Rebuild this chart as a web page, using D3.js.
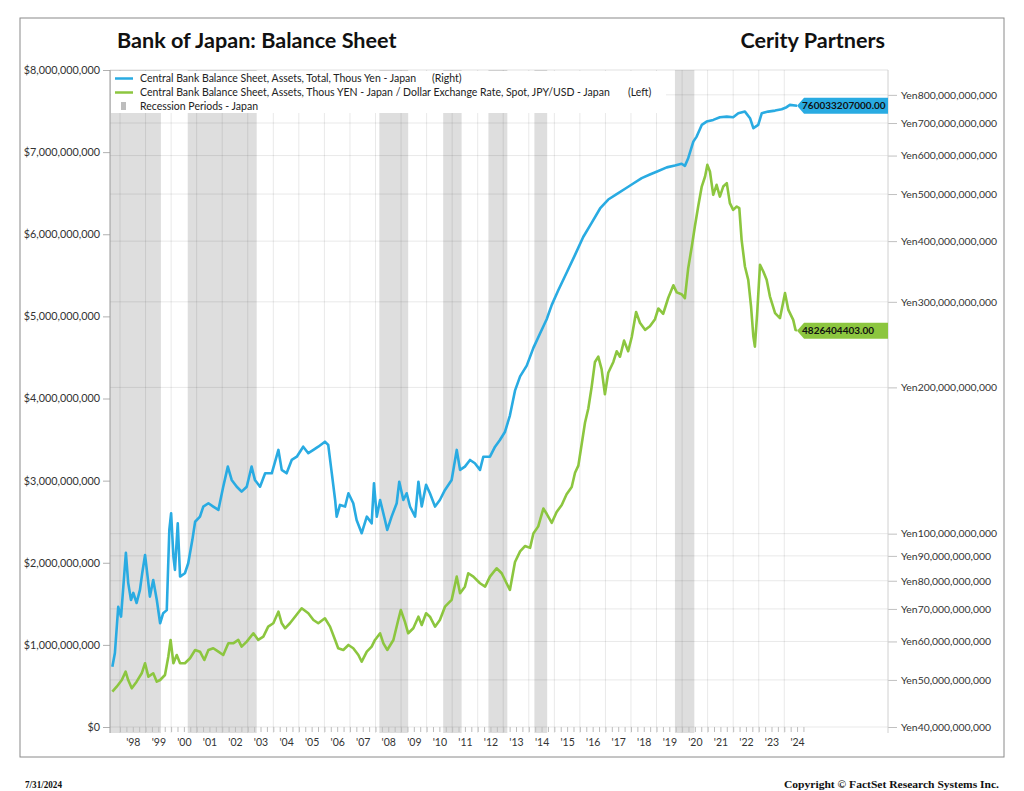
<!DOCTYPE html>
<html>
<head>
<meta charset="utf-8">
<script src="https://cdn.jsdelivr.net/npm/d3@7"></script>
<style>
  html, body { margin: 0; padding: 0; background: #fff; }
  svg { display: block; }
</style>
</head>
<body>
<svg id="chart" width="1024" height="791"></svg>
<script>
// ---------------- DATA ----------------
// Blue: Central Bank Balance Sheet, Assets, Total (billions of plotted unit; right, log axis)
const blueDates = [1997.70,1997.80,1997.93,1998.04,1998.13,1998.23,1998.32,1998.43,1998.52,1998.65,1998.78,1998.87,1998.98,1999.08,1999.17,1999.30,1999.44,1999.57,1999.69,1999.83,1999.93,2000.00,2000.09,2000.15,2000.26,2000.35,2000.54,2000.67,2000.83,2000.94,2001.13,2001.26,2001.46,2001.65,2001.85,2002.04,2002.22,2002.37,2002.57,2002.76,2002.96,2003.15,2003.28,2003.48,2003.68,2003.94,2004.20,2004.33,2004.52,2004.72,2004.92,2005.17,2005.37,2005.57,2005.76,2006.02,2006.15,2006.29,2006.42,2006.48,2006.61,2006.81,2006.94,2007.13,2007.26,2007.46,2007.66,2007.85,2007.94,2008.05,2008.18,2008.37,2008.46,2008.63,2008.83,2008.93,2009.09,2009.22,2009.35,2009.55,2009.68,2009.81,2009.98,2010.13,2010.33,2010.52,2010.72,2010.98,2011.18,2011.31,2011.50,2011.70,2011.89,2012.09,2012.22,2012.48,2012.68,2012.87,2013.07,2013.26,2013.46,2013.66,2013.92,2014.18,2014.44,2014.70,2014.90,2015.15,2015.48,2015.81,2016.13,2016.46,2016.79,2017.11,2017.44,2017.77,2018.09,2018.42,2018.74,2019.07,2019.40,2019.72,2019.98,2020.11,2020.24,2020.44,2020.57,2020.77,2020.96,2021.22,2021.48,2021.75,2022.00,2022.20,2022.46,2022.66,2022.79,2022.98,2023.12,2023.37,2023.64,2023.90,2024.09,2024.22,2024.50];
const blueValues = [53.2,56.8,70.7,67.5,77.8,91.3,79.2,73.0,75.5,72.0,76.6,83.0,90.4,81.6,74.2,80.3,73.0,65.4,68.6,69.6,101.8,110.1,89.7,84.2,105.0,81.6,82.9,86.9,97.0,105.8,108.4,113.7,115.5,113.7,111.9,124.9,137.4,129.0,124.9,122.0,124.9,137.4,129.0,124.9,133.1,133.1,148.7,135.3,133.1,141.8,144.0,151.0,146.4,148.7,151.0,154.6,152.3,133.1,117.3,108.4,114.6,113.7,121.1,115.5,106.7,100.2,108.4,105.0,127.0,108.4,117.3,106.7,101.8,108.4,115.5,127.9,117.3,121.1,113.7,108.4,127.9,113.7,126.0,121.1,113.7,117.3,123.0,129.0,148.7,135.3,137.4,141.8,139.6,135.3,144.0,144.0,151.0,155.9,162.1,175.0,196.9,210.7,221.7,241.2,258.1,276.3,295.7,316.4,344.3,374.7,407.9,436.2,466.9,487.2,499.6,512.6,525.6,539.2,548.5,557.7,567.3,572.2,577.1,571.4,592.6,641.0,656.4,693.8,704.8,710.5,719.6,721.7,719.6,733.4,739.0,716.2,683.1,693.8,733.4,739.0,742.5,747.5,754.6,762.8,760.033207];

// Green: Assets in YEN / JPY-USD spot (billions of dollars; left, linear axis)
const greenDates = [1997.70,1997.87,1998.07,1998.22,1998.32,1998.46,1998.65,1998.85,1998.98,1999.11,1999.30,1999.44,1999.57,1999.76,1999.89,1999.98,2000.09,2000.22,2000.35,2000.54,2000.74,2000.94,2001.13,2001.30,2001.46,2001.65,2001.85,2002.04,2002.24,2002.43,2002.63,2002.76,2002.96,2003.22,2003.41,2003.61,2003.80,2004.00,2004.20,2004.33,2004.46,2004.65,2004.85,2005.11,2005.37,2005.57,2005.76,2006.02,2006.22,2006.42,2006.54,2006.74,2006.94,2007.13,2007.33,2007.46,2007.66,2007.85,2007.98,2008.18,2008.31,2008.46,2008.70,2008.89,2008.99,2009.15,2009.28,2009.48,2009.68,2009.81,2009.98,2010.13,2010.33,2010.52,2010.72,2010.98,2011.18,2011.31,2011.50,2011.63,2011.83,2012.09,2012.29,2012.48,2012.74,2012.94,2013.13,2013.26,2013.46,2013.66,2013.85,2014.05,2014.18,2014.37,2014.57,2014.70,2014.90,2015.09,2015.29,2015.48,2015.68,2015.81,2015.94,2016.07,2016.20,2016.33,2016.46,2016.59,2016.72,2016.85,2016.98,2017.11,2017.31,2017.44,2017.57,2017.73,2017.89,2018.03,2018.20,2018.35,2018.55,2018.74,2018.94,2019.07,2019.26,2019.46,2019.66,2019.79,2019.98,2020.11,2020.24,2020.38,2020.50,2020.63,2020.77,2020.90,2020.99,2021.09,2021.22,2021.35,2021.48,2021.61,2021.75,2021.87,2022.00,2022.14,2022.24,2022.33,2022.46,2022.59,2022.70,2022.79,2022.85,2022.94,2023.05,2023.18,2023.31,2023.44,2023.64,2023.83,2024.03,2024.16,2024.35,2024.44,2024.50];
const greenValues = [0.430,0.491,0.572,0.674,0.572,0.471,0.552,0.654,0.776,0.613,0.654,0.552,0.572,0.633,0.856,1.060,0.776,0.877,0.776,0.776,0.837,0.938,0.917,0.816,0.938,0.959,0.917,0.877,1.019,1.019,1.060,0.978,1.039,1.141,1.060,1.100,1.222,1.263,1.404,1.263,1.202,1.263,1.343,1.446,1.385,1.303,1.263,1.324,1.222,1.060,0.959,0.938,0.999,0.959,0.877,0.795,0.917,0.978,1.060,1.141,1.019,0.938,1.060,1.303,1.425,1.283,1.141,1.202,1.343,1.242,1.385,1.343,1.222,1.303,1.465,1.547,1.831,1.628,1.709,1.872,1.831,1.750,1.709,1.831,1.933,1.872,1.750,1.669,2.009,2.139,2.203,2.181,2.356,2.443,2.660,2.596,2.486,2.618,2.704,2.834,2.922,3.095,3.183,3.443,3.704,3.878,4.140,4.445,4.509,4.357,4.052,4.313,4.445,4.575,4.509,4.705,4.575,4.749,5.054,4.922,4.836,4.879,4.966,5.096,5.032,5.227,5.379,5.292,5.270,5.222,5.587,5.850,6.094,6.337,6.581,6.703,6.845,6.764,6.480,6.602,6.459,6.581,6.622,6.379,6.297,6.337,6.318,5.932,5.607,5.445,5.119,4.754,4.632,5.039,5.627,5.546,5.445,5.241,5.039,4.978,5.283,5.079,4.957,4.836,4.826404403];

// Recession periods - Japan (decimal years)
const recessionStart = [1997.6, 2000.65, 2008.15, 2010.65, 2012.42, 2014.22, 2019.72];
const recessionEnd   = [1999.6, 2003.35, 2009.28, 2011.37, 2013.16, 2014.72, 2020.48];

// Axis ticks
const leftTicks  = [0, 1e9, 2e9, 3e9, 4e9, 5e9, 6e9, 7e9, 8e9];
const rightTicks = [40e9, 50e9, 60e9, 70e9, 80e9, 90e9, 100e9, 200e9, 300e9, 400e9, 500e9, 600e9, 700e9, 800e9];
const yearTicks  = d3.range(1998, 2025);

const blueLastLabel  = "760033207000.00";
const greenLastLabel = "4826404403.00";
const UNIT = 1e9;

// ---------------- CHART ----------------
const svg = d3.select("#chart");
const FONT = "Lato, 'Open Sans', sans-serif";
const plot = { left: 110, right: 888, top: 70, bottom: 727, axisBottom: 733 };

const x  = d3.scaleLinear().domain([1997.608, 2028.06]).range([plot.left, plot.right]);
const yL = d3.scaleLinear().domain([0, 8e9]).range([plot.bottom, plot.top]);
const yR = d3.scaleLog().domain([40e9, 900e9]).range([plot.bottom, plot.top]);

// outer frame
svg.append("rect").attr("x", 20).attr("y", 18).attr("width", 984).attr("height", 739)
  .attr("fill", "#fff").attr("stroke", "#8a8a8a").attr("stroke-width", 1);

// titles
svg.append("text").attr("x", 117).attr("y", 48).attr("font-family", FONT)
  .attr("font-size", 21.6).attr("font-weight", "bold").attr("fill", "#111")
  .text("Bank of Japan: Balance Sheet");
svg.append("text").attr("x", 885).attr("y", 48).attr("text-anchor", "end").attr("font-family", FONT)
  .attr("font-size", 21.6).attr("font-weight", "bold").attr("fill", "#111")
  .text("Cerity Partners");

// recession bands
svg.append("g").selectAll("rect").data(recessionStart).join("rect")
  .attr("x", (d) => Math.max(plot.left, x(d)))
  .attr("width", (d, i) => x(recessionEnd[i]) - Math.max(plot.left, x(d)))
  .attr("y", plot.top).attr("height", plot.axisBottom - plot.top)
  .attr("fill", "#dedede");

// vertical grid (year boundaries)
svg.append("g").selectAll("line").data(yearTicks).join("line")
  .attr("x1", (d) => x(d)).attr("x2", (d) => x(d))
  .attr("y1", plot.top).attr("y2", plot.axisBottom)
  .attr("stroke", "rgba(0,0,0,0.09)").attr("stroke-width", 1);

// horizontal grid (right axis ticks)
svg.append("g").selectAll("line").data(rightTicks).join("line")
  .attr("x1", plot.left).attr("x2", plot.right)
  .attr("y1", (d) => yR(d)).attr("y2", (d) => yR(d))
  .attr("stroke", "rgba(0,0,0,0.09)").attr("stroke-width", 1);
svg.append("line").attr("x1", plot.left).attr("x2", plot.right)
  .attr("y1", plot.top).attr("y2", plot.top).attr("stroke", "rgba(0,0,0,0.12)");

// series
const blueData = blueDates.map((d, i) => ({ t: d, v: blueValues[i] * UNIT }));
const greenData = greenDates.map((d, i) => ({ t: d, v: greenValues[i] * UNIT }));

svg.append("path").datum(greenData)
  .attr("fill", "none").attr("stroke", "#8cc63f").attr("stroke-width", 2.6)
  .attr("stroke-linejoin", "round")
  .attr("d", d3.line().x((d) => x(d.t)).y((d) => yL(d.v)));
svg.append("path").datum(blueData)
  .attr("fill", "none").attr("stroke", "#29abe2").attr("stroke-width", 2.6)
  .attr("stroke-linejoin", "round")
  .attr("d", d3.line().x((d) => x(d.t)).y((d) => yR(d.v)));

// legend
const lg = svg.append("g");
lg.append("rect").attr("x", plot.left + 1).attr("y", plot.top + 1).attr("width", 555).attr("height", 42).attr("fill", "#fff");
const legendRows = [
  { y: 78.5, color: "#29abe2", text: "Central Bank Balance Sheet, Assets, Total, Thous Yen - Japan", side: "(Right)", sx: 432 },
  { y: 92.5, color: "#8cc63f", text: "Central Bank Balance Sheet, Assets, Thous YEN - Japan / Dollar Exchange Rate, Spot, JPY/USD - Japan", side: "(Left)", sx: 628 }
];
legendRows.forEach((r) => {
  lg.append("line").attr("x1", 115).attr("x2", 133).attr("y1", r.y).attr("y2", r.y)
    .attr("stroke", r.color).attr("stroke-width", 2.5);
  lg.append("text").attr("x", 140).attr("y", r.y + 3.7).attr("font-family", FONT).attr("font-size", 10.5).attr("fill", "#222").text(r.text);
  lg.append("text").attr("x", r.sx).attr("y", r.y + 3.7).attr("font-family", FONT).attr("font-size", 10.5).attr("fill", "#222").text(r.side);
});
lg.append("rect").attr("x", 121).attr("y", 102).attr("width", 5).attr("height", 8).attr("fill", "#bdbdbd");
lg.append("text").attr("x", 140).attr("y", 110).attr("font-family", FONT).attr("font-size", 10.5).attr("fill", "#222").text("Recession Periods - Japan");

// left axis
const leftAxis = d3.axisLeft(yL).tickValues(leftTicks).tickSize(7).tickPadding(3)
  .tickFormat((d) => "$" + d3.format(",")(d));
const gL = svg.append("g").attr("transform", `translate(${plot.left},0)`).call(leftAxis);
gL.select(".domain").remove();
gL.append("line").attr("x1", 0).attr("x2", 0).attr("y1", plot.top).attr("y2", plot.axisBottom).attr("stroke", "#9a9a9a");
gL.selectAll(".tick line").attr("stroke", "#b0b0b0");
gL.selectAll("text").attr("font-family", FONT).attr("font-size", 10.8).attr("fill", "#333");

// right axis
const rightAxis = d3.axisRight(yR).tickValues(rightTicks).tickSize(9).tickPadding(4)
  .tickFormat((d) => "Yen" + d3.format(",")(d));
const gR = svg.append("g").attr("transform", `translate(${plot.right},0)`).call(rightAxis);
gR.select(".domain").remove();
gR.append("line").attr("x1", 0).attr("x2", 0).attr("y1", plot.top).attr("y2", plot.axisBottom).attr("stroke", "#d0d0d0");
gR.selectAll(".tick line").attr("stroke", "#c0c0c0");
gR.selectAll("text").attr("font-family", FONT).attr("font-size", 10.4).attr("fill", "#333");

// bottom axis
const quarterTicks = d3.range(1998, 2024.76, 0.25);
const gB = svg.append("g").attr("transform", `translate(0,${plot.bottom})`);
gB.call(d3.axisBottom(x).tickValues(quarterTicks).tickSize(5).tickFormat(""));
gB.select(".domain").remove();
gB.selectAll(".tick line").attr("stroke", "#bdbdbd");
const gB2 = svg.append("g").attr("transform", `translate(0,${plot.bottom})`);
gB2.call(d3.axisBottom(x).tickValues(yearTicks.map((d) => d + 0.5)).tickSize(0).tickPadding(12)
  .tickFormat((d) => "'" + String(Math.floor(d)).slice(2)));
gB2.select(".domain").remove();
gB2.selectAll("text").attr("font-family", FONT).attr("font-size", 10.5).attr("fill", "#333");

// last value labels
function lastLabel(yPos, color, text) {
  const x0 = x(blueDates[blueDates.length - 1]);
  const h = 16;
  const g = svg.append("g");
  g.append("path")
    .attr("d", `M${x0},${yPos} L${x0 + 7},${yPos - h / 2} L${plot.right},${yPos - h / 2} L${plot.right},${yPos + h / 2} L${x0 + 7},${yPos + h / 2} Z`)
    .attr("fill", color);
  g.append("text").attr("x", x0 + 5).attr("y", yPos + 3.6).attr("font-family", FONT)
    .attr("font-size", 10).attr("font-weight", "bold").attr("fill", "#111").text(text);
}
lastLabel(yR(blueData[blueData.length - 1].v), "#29abe2", blueLastLabel);
lastLabel(yL(greenData[greenData.length - 1].v), "#8cc63f", greenLastLabel);

// footer
svg.append("text").attr("x", 25).attr("y", 788).attr("font-family", "'Liberation Serif', serif")
  .attr("font-size", 10.5).attr("font-weight", "bold").attr("fill", "#111")
  .attr("textLength", 37).attr("lengthAdjust", "spacingAndGlyphs").text("7/31/2024");
svg.append("text").attr("x", 784).attr("y", 788).attr("font-family", "'Liberation Serif', serif")
  .attr("font-size", 11).attr("font-weight", "bold").attr("fill", "#111")
  .attr("textLength", 215).attr("lengthAdjust", "spacingAndGlyphs").text("Copyright © FactSet Research Systems Inc.");
</script>
</body>
</html>
